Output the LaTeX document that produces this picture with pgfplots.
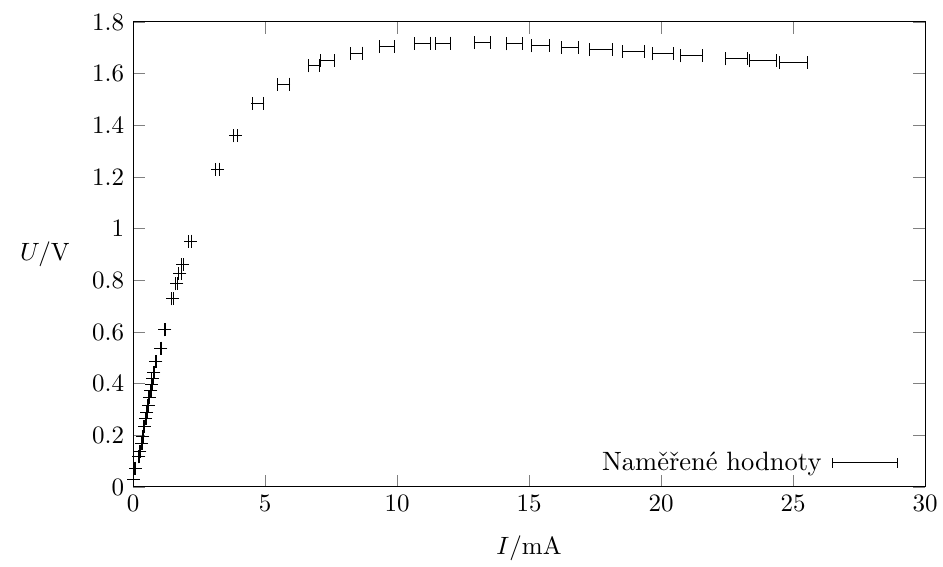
\documentclass[border=0pt]{standalone}
\usepackage{pgfplots}
\pgfplotsset{compat=1.18}
\usepackage{pgfplotstable}

\pgfplotstableread{
I     U      dI
0.00  0.030  0.010
0.08  0.072  0.011
0.22  0.117  0.014
0.26  0.138  0.015
0.33  0.169  0.016
0.37  0.197  0.017
0.42  0.233  0.018
0.48  0.264  0.019
0.52  0.290  0.020
0.58  0.316  0.021
0.62  0.345  0.022
0.68  0.372  0.023
0.71  0.395  0.024
0.74  0.420  0.025
0.79  0.445  0.026
0.87  0.485  0.027
1.06  0.538  0.031
1.21  0.608  0.034
1.50  0.728  0.040
1.66  0.786  0.043
1.78  0.827  0.046
1.88  0.860  0.048
2.16  0.952  0.053
3.21  1.230  0.074
3.88  1.359  0.088
4.73  1.485  0.21
5.71  1.559  0.23
6.86  1.630  0.22
7.37  1.650  0.25
8.46  1.679  0.24
9.62  1.705  0.28
10.95 1.718  0.30
11.74 1.718  0.30
13.24 1.720  0.32
14.45 1.715  0.32
15.44 1.708  0.33
16.55 1.702  0.32
17.73 1.693  0.42
18.96 1.686  0.43
20.06 1.678  0.40
21.14 1.669  0.42
22.86 1.657  0.43
23.86 1.649  0.52
25.02 1.643  0.52
}\meas

\begin{document}
\begin{tikzpicture}
\useasboundingbox (-53.2pt,-32pt) rectangle (324pt,194.8pt);
\begin{axis}[
  scale only axis,
  width=316.8pt,
  height=186pt,
  xmin=0, xmax=30,
  ymin=0, ymax=1.8,
  xtick={0,5,...,30},
  ytick={0,0.2,...,1.8},
  major tick length=4.8pt,
  xlabel={$I/\mathrm{mA}$},
  ylabel={$U/\mathrm{V}$},
  xlabel style={at={(axis description cs:0.5,-0.131)}, anchor=center},
  ylabel style={at={(axis description cs:-0.111,0.5)}, rotate=-90, anchor=center},
  legend plot pos=right,
  legend style={draw=none, fill=none, inner sep=0pt, column sep=2pt,
    font=\fontsize{10.6pt}{12pt}\selectfont,
    at={(rel axis cs:1,0)}, anchor=east, xshift=-10.8pt, yshift=9.6pt,
    cells={anchor=east}},
  legend image code/.code={
    \draw (0pt,0pt) -- (26pt,0pt);
    \draw (0pt,-1.9pt) -- (0pt,1.9pt);
    \draw (26pt,-1.9pt) -- (26pt,1.9pt);
  },
]
\addplot[black, only marks, mark=-, mark size=2.6pt,
  error bars/.cd, x dir=both, x explicit, error mark=|,
  error mark options={black, mark size=2.6pt}]
  table[x=I, y=U, x error=dI] {\meas};
\addlegendentry{Naměřené hodnoty}
\end{axis}
\end{tikzpicture}
\end{document}
